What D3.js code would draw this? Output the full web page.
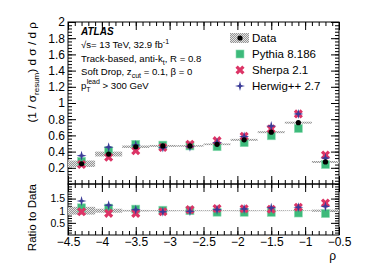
<!DOCTYPE html>
<html>
<head>
<meta charset="utf-8">
<script src="https://d3js.org/d3.v7.min.js"></script>
<style>
  body { margin: 0; background: #fff; }
  svg { display: block; font-family: "Liberation Sans", Arial, sans-serif; }
</style>
</head>
<body>
<div id="chart"></div>
<script>
// bin centres and edges
const rho = [-4.3, -3.9, -3.5, -3.1, -2.7, -2.3, -1.9, -1.5, -1.1, -0.7];
const binHalf = 0.2;

// unfolded data and its total uncertainty
const dataVals = [0.25, 0.37, 0.46, 0.47, 0.47, 0.49, 0.545, 0.64, 0.757, 0.272];
const dataErr = [0.04, 0.03, 0.015, 0.012, 0.01, 0.01, 0.012, 0.012, 0.012, 0.012];

// generator predictions
const pythia = [0.28, 0.41, 0.49, 0.48, 0.47, 0.46, 0.51, 0.595, 0.685, 0.24];
const sherpa = [0.24, 0.33, 0.41, 0.45, 0.49, 0.535, 0.59, 0.68, 0.865, 0.358];
const herwig = [0.35, 0.455, 0.48, 0.45, 0.46, 0.51, 0.585, 0.716, 0.865, 0.32];

const seriesNames = ['Data', 'Pythia 8.186', 'Sherpa 2.1', 'Herwig++ 2.7'];

const xTicks = [-4.5, -4, -3.5, -3, -2.5, -2, -1.5, -1, -0.5];
const yTicks = [0.2, 0.4, 0.6, 0.8, 1, 1.2, 1.4, 1.6, 1.8, 2];
const ratioTicks = [0.5, 1, 1.5];

const W = 368, H = 264;
const padL = 68, padR = 339, padT = 22, padMid = 184, padB = 235;

const green = '#3dba7b', red = '#dc3466', blue = '#3b3c98';

const svg = d3.select('#chart').append('svg')
  .attr('width', W).attr('height', H);

const defs = svg.append('defs');
const pat = defs.append('pattern')
  .attr('id', 'hatch')
  .attr('patternUnits', 'userSpaceOnUse')
  .attr('width', 2).attr('height', 2);
pat.append('rect').attr('width', 2).attr('height', 2).attr('fill', '#e4e4e4');
pat.append('path').attr('d', 'M0,2 L2,0').attr('stroke', '#8c8c8c').attr('stroke-width', 0.9);

const x = d3.scaleLinear().domain([-4.5, -0.5]).range([padL, padR]);
const y = d3.scaleLinear().domain([0, 2]).range([padMid, padT]);
const yr = d3.scaleLinear().domain([0, 2.1]).range([padB, padMid]);

const fmt = d3.format('~g');
const xMinor = d3.range(-4.5, -0.49, 0.1);
const yMinor = d3.range(0, 2.001, 0.04);
const rMinor = d3.range(0.1, 2.1, 0.1);

// ---- axes ----
function drawAxis(axis, tx, ty, fs = 12) {
  const g = svg.append('g').attr('transform', `translate(${tx},${ty})`).call(axis);
  g.select('.domain').remove();
  g.selectAll('line').attr('stroke', '#000').attr('stroke-width', 1);
  g.selectAll('text').attr('font-size', fs).attr('fill', '#000')
    .attr('font-family', '"Liberation Sans", Arial, sans-serif');
  return g;
}

// top panel
drawAxis(d3.axisLeft(y).tickValues(yMinor).tickSize(-4).tickFormat(''), padL, 0);
drawAxis(d3.axisLeft(y).tickValues(yTicks).tickSize(-8).tickPadding(3).tickFormat(fmt), padL, 0);
drawAxis(d3.axisRight(y).tickValues(yMinor).tickSize(-4).tickFormat(''), padR, 0);
drawAxis(d3.axisRight(y).tickValues(yTicks).tickSize(-8).tickFormat(''), padR, 0);
drawAxis(d3.axisTop(x).tickValues(xMinor).tickSize(-4).tickFormat(''), 0, padT);
drawAxis(d3.axisTop(x).tickValues(xTicks).tickSize(-8).tickFormat(''), 0, padT);
drawAxis(d3.axisBottom(x).tickValues(xMinor).tickSize(-4).tickFormat(''), 0, padMid);
drawAxis(d3.axisBottom(x).tickValues(xTicks).tickSize(-8).tickFormat(''), 0, padMid);

// ratio panel
drawAxis(d3.axisLeft(yr).tickValues(rMinor).tickSize(-4).tickFormat(''), padL, 0);
drawAxis(d3.axisLeft(yr).tickValues(ratioTicks).tickSize(-8).tickPadding(3).tickFormat(fmt), padL, 0, 10.5);
drawAxis(d3.axisRight(yr).tickValues(rMinor).tickSize(-4).tickFormat(''), padR, 0);
drawAxis(d3.axisRight(yr).tickValues(ratioTicks).tickSize(-8).tickFormat(''), padR, 0);
drawAxis(d3.axisTop(x).tickValues(xMinor).tickSize(-4).tickFormat(''), 0, padMid);
drawAxis(d3.axisTop(x).tickValues(xTicks).tickSize(-8).tickFormat(''), 0, padMid);
drawAxis(d3.axisBottom(x).tickValues(xMinor).tickSize(-4).tickFormat(''), 0, padB);
drawAxis(d3.axisBottom(x).tickValues(xTicks).tickSize(-8).tickPadding(2).tickFormat(fmt), 0, padB);

// frames
svg.append('rect').attr('x', padL).attr('y', padT).attr('width', padR - padL).attr('height', padMid - padT)
  .attr('fill', 'none').attr('stroke', '#000');
svg.append('rect').attr('x', padL).attr('y', padMid).attr('width', padR - padL).attr('height', padB - padMid)
  .attr('fill', 'none').attr('stroke', '#000');

// ---- markers ----
const xSym = d3.symbol().type(d3.symbolCross).size(52);
function star(r, w) {
  return `M0,${-r} L${w},${-w} L${r},0 L${w},${w} L0,${r} L${-w},${w} L${-r},0 L${-w},${-w} Z`;
}
function drawPoints(g, vals, kind, scale) {
  const sel = g.selectAll(null).data(vals.map((v, i) => [rho[i], v])).enter();
  if (kind === 'square') {
    sel.append('rect')
      .attr('x', d => x(d[0]) - 4).attr('y', d => scale(d[1]) - 4)
      .attr('width', 8).attr('height', 8).attr('fill', green)
      .attr('stroke', '#8fdcb4').attr('stroke-width', 0.6);
  } else if (kind === 'x') {
    sel.append('path').attr('d', xSym)
      .attr('transform', d => `translate(${x(d[0])},${scale(d[1])}) rotate(45)`)
      .attr('fill', red);
  } else if (kind === 'star') {
    sel.append('path').attr('d', star(5, 1.1))
      .attr('transform', d => `translate(${x(d[0])},${scale(d[1])})`)
      .attr('fill', blue);
  } else {
    sel.append('circle')
      .attr('cx', d => x(d[0])).attr('cy', d => scale(d[1]))
      .attr('r', 2.6).attr('fill', '#000');
  }
}

// top panel: uncertainty bands then points
const gTop = svg.append('g');
gTop.selectAll(null).data(rho).enter().append('rect')
  .attr('x', d => x(d - binHalf))
  .attr('width', d => x(d + binHalf) - x(d - binHalf))
  .attr('y', (d, i) => y(dataVals[i] + dataErr[i]))
  .attr('height', (d, i) => y(dataVals[i] - dataErr[i]) - y(dataVals[i] + dataErr[i]))
  .attr('fill', 'url(#hatch)');
drawPoints(gTop, pythia, 'square', y);
drawPoints(gTop, sherpa, 'x', y);
drawPoints(gTop, herwig, 'star', y);
drawPoints(gTop, dataVals, 'dot', y);

// ratio panel
const gR = svg.append('g');
gR.selectAll(null).data(rho).enter().append('rect')
  .attr('x', d => x(d - binHalf))
  .attr('width', d => x(d + binHalf) - x(d - binHalf))
  .attr('y', (d, i) => yr(1 + dataErr[i] / dataVals[i]))
  .attr('height', (d, i) => yr(1 - dataErr[i] / dataVals[i]) - yr(1 + dataErr[i] / dataVals[i]))
  .attr('fill', 'url(#hatch)');
const ratio = arr => arr.map((v, i) => v / dataVals[i]);
drawPoints(gR, ratio(pythia), 'square', yr);
drawPoints(gR, ratio(sherpa), 'x', yr);
drawPoints(gR, ratio(herwig), 'star', yr);

// ---- legend ----
const leg = svg.append('g').attr('transform', 'translate(240,0)');
const legY = [38, 54, 70, 86];
leg.append('rect').attr('x', -10).attr('y', legY[0] - 5).attr('width', 19).attr('height', 10)
  .attr('fill', 'url(#hatch)');
leg.append('circle').attr('cx', 0).attr('cy', legY[0]).attr('r', 2.6).attr('fill', '#000');
leg.append('rect').attr('x', -4).attr('y', legY[1] - 4).attr('width', 8).attr('height', 8)
  .attr('fill', green).attr('stroke', '#8fdcb4').attr('stroke-width', 0.6);
leg.append('path').attr('d', xSym).attr('transform', `translate(0,${legY[2]}) rotate(45)`).attr('fill', red);
leg.append('path').attr('d', star(5, 1.1)).attr('transform', `translate(0,${legY[3]})`).attr('fill', blue);
leg.selectAll('text.lbl').data(seriesNames).enter().append('text')
  .attr('class', 'lbl')
  .attr('x', 12).attr('y', (d, i) => legY[i] + 4)
  .attr('font-size', 11.5).text(d => d);

// ---- labels ----
const info = svg.append('g').attr('font-size', 9.6);
info.append('text').attr('x', 81).attr('y', 35)
  .attr('font-weight', 'bold').attr('font-style', 'italic').attr('font-size', 10).text('ATLAS');
let t = info.append('text').attr('x', 81).attr('y', 48);
t.append('tspan').text('√s= 13 TeV, 32.9 fb');
t.append('tspan').attr('dy', -4).attr('font-size', 7).text('-1');
t = info.append('text').attr('x', 81).attr('y', 62);
t.append('tspan').text('Track-based, anti-k');
t.append('tspan').attr('dy', 3).attr('font-size', 7).text('t');
t.append('tspan').attr('dy', -3).text(', R = 0.8');
t = info.append('text').attr('x', 81).attr('y', 75);
t.append('tspan').text('Soft Drop, z');
t.append('tspan').attr('dy', 3).attr('font-size', 7).text('cut');
t.append('tspan').attr('dy', -3).text(' = 0.1, β = 0');
t = info.append('text').attr('x', 81).attr('y', 89);
t.append('tspan').text('p');
t.append('tspan').attr('dy', 3).attr('font-size', 7).text('T');
t.append('tspan').attr('dx', -4).attr('dy', -8).attr('font-size', 7).text('lead');
t.append('tspan').attr('dy', 5).text(' > 300 GeV');

// axis titles
t = svg.append('text').attr('transform', `translate(36,${padT}) rotate(-90)`)
  .attr('text-anchor', 'end').attr('font-size', 11.8);
t.append('tspan').text('(1 / σ');
t.append('tspan').attr('dy', 3).attr('font-size', 8).text('resum');
t.append('tspan').attr('dy', -3).text(') d σ / d ρ');

svg.append('text').attr('transform', `translate(36,${padMid}) rotate(-90)`)
  .attr('text-anchor', 'end').attr('font-size', 11.5).text('Ratio to Data');

svg.append('text').attr('x', 336).attr('y', 260).attr('text-anchor', 'end')
  .attr('font-size', 12).text('ρ');
</script>
</body>
</html>
